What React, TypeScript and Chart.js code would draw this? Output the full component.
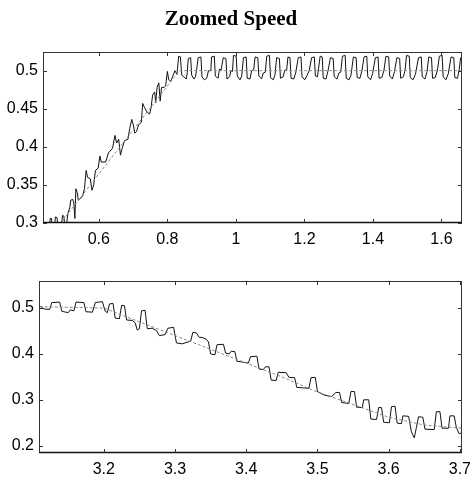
import React, { useEffect, useRef } from "react";
import { Chart, registerables } from "chart.js";

Chart.register(...registerables);

const TITLE = "Zoomed Speed";

// ---------- Top plot data ----------
const topSpeedX = [
  0.440, 0.455, 0.458, 0.462, 0.465, 0.470, 0.473, 0.478, 0.481, 0.490,
  0.494, 0.498, 0.501, 0.505, 0.510, 0.515, 0.518, 0.524, 0.527, 0.530,
  0.533, 0.537, 0.540, 0.548, 0.553, 0.558, 0.563, 0.567, 0.575, 0.580,
  0.585, 0.590, 0.598, 0.603, 0.607, 0.620, 0.628, 0.640, 0.647, 0.652,
  0.658, 0.663, 0.668, 0.675, 0.685, 0.690, 0.696, 0.700, 0.705, 0.710,
  0.716, 0.724, 0.728, 0.733, 0.740, 0.748, 0.752, 0.757, 0.763, 0.766,
  0.770, 0.775, 0.779, 0.783, 0.790, 0.795, 0.800, 0.804, 0.810, 0.815,
  0.822, 0.828, 0.833, 0.838, 0.842, 0.848,
  0.855, 0.858, 0.861, 0.868, 0.871, 0.878, 0.882, 0.885, 0.890, 0.898,
  0.901, 0.908, 0.915, 0.920, 0.927, 0.929, 0.937, 0.940, 0.948, 0.952,
  0.957, 0.963, 0.971, 0.974, 0.982, 0.985, 0.990, 0.993, 1.001, 1.004,
  1.012, 1.017, 1.022, 1.030, 1.033, 1.041, 1.046, 1.052, 1.056, 1.064,
  1.067, 1.075, 1.080, 1.086, 1.090, 1.098, 1.101, 1.109, 1.114, 1.119,
  1.127, 1.130, 1.138, 1.143, 1.148, 1.152, 1.158, 1.161, 1.169, 1.175,
  1.182, 1.190, 1.193, 1.201, 1.208, 1.214, 1.221, 1.229, 1.232, 1.238,
  1.246, 1.252, 1.255, 1.263, 1.269, 1.276, 1.284, 1.287, 1.295, 1.301,
  1.306, 1.311, 1.319, 1.322, 1.330, 1.336, 1.343, 1.351, 1.354, 1.362,
  1.368, 1.374, 1.382, 1.385, 1.393, 1.399, 1.407, 1.415, 1.418, 1.426,
  1.432, 1.438, 1.446, 1.449, 1.457, 1.463, 1.470, 1.478, 1.481, 1.489,
  1.494, 1.498, 1.506, 1.509, 1.517, 1.524, 1.533, 1.541, 1.544, 1.552,
  1.558, 1.563, 1.571, 1.574, 1.582, 1.588, 1.594, 1.602, 1.605, 1.613,
  1.620, 1.628, 1.636, 1.639, 1.647, 1.652, 1.656, 1.660,
];
const topSpeedY = [
  0.285, 0.285, 0.306, 0.306, 0.288, 0.288, 0.308, 0.307, 0.290, 0.292,
  0.310, 0.309, 0.292, 0.296, 0.313, 0.320, 0.330, 0.331, 0.326, 0.306,
  0.345, 0.340, 0.330, 0.333, 0.336, 0.345, 0.369, 0.360, 0.358, 0.343,
  0.350, 0.369, 0.372, 0.388, 0.380, 0.380, 0.392, 0.398, 0.415, 0.405,
  0.410, 0.389, 0.398, 0.408, 0.410, 0.424, 0.436, 0.430, 0.418, 0.420,
  0.429, 0.432, 0.457, 0.452, 0.446, 0.443, 0.450, 0.468, 0.472, 0.458,
  0.478, 0.484, 0.460, 0.478, 0.478, 0.480, 0.499, 0.488, 0.486, 0.492,
  0.500, 0.495, 0.519, 0.518, 0.494, 0.492,
  0.489, 0.497, 0.516, 0.517, 0.494, 0.489, 0.492, 0.500, 0.517, 0.518,
  0.492, 0.488, 0.490, 0.500, 0.500, 0.518, 0.519, 0.493, 0.490, 0.502,
  0.501, 0.517, 0.516, 0.489, 0.492, 0.500, 0.499, 0.520, 0.519, 0.493,
  0.488, 0.493, 0.517, 0.518, 0.490, 0.489, 0.500, 0.501, 0.518, 0.517,
  0.493, 0.489, 0.497, 0.498, 0.519, 0.520, 0.491, 0.488, 0.494, 0.517,
  0.516, 0.490, 0.492, 0.501, 0.500, 0.518, 0.517, 0.490, 0.489, 0.498,
  0.517, 0.518, 0.492, 0.488, 0.494, 0.500, 0.517, 0.518, 0.493, 0.492,
  0.519, 0.518, 0.490, 0.489, 0.500, 0.517, 0.516, 0.492, 0.489, 0.497,
  0.498, 0.519, 0.520, 0.490, 0.488, 0.494, 0.518, 0.517, 0.491, 0.490,
  0.500, 0.518, 0.519, 0.492, 0.488, 0.496, 0.517, 0.518, 0.490, 0.491,
  0.500, 0.519, 0.518, 0.493, 0.489, 0.499, 0.517, 0.516, 0.490, 0.492,
  0.501, 0.520, 0.519, 0.491, 0.488, 0.495, 0.517, 0.518, 0.492, 0.489,
  0.499, 0.518, 0.517, 0.490, 0.491, 0.500, 0.519, 0.520, 0.492, 0.488,
  0.496, 0.518, 0.517, 0.491, 0.490, 0.502, 0.517, 0.518,
];
const topRefX = [0.44, 0.835, 1.66];
const topRefY = [0.272, 0.5, 0.5];
const topXTicks = [0.6, 0.8, 1, 1.2, 1.4, 1.6];
const topYTicks = [0.3, 0.35, 0.4, 0.45, 0.5];

// ---------- Bottom plot data ----------
const botSpeedX = [
  3.110, 3.116, 3.124, 3.127, 3.138, 3.141, 3.150, 3.153, 3.158, 3.161,
  3.172, 3.175, 3.184, 3.188, 3.198, 3.202, 3.205, 3.208, 3.213, 3.216,
  3.222, 3.225, 3.229, 3.232, 3.240, 3.244, 3.247, 3.250, 3.253, 3.258,
  3.261, 3.268, 3.274, 3.278, 3.286, 3.290, 3.298, 3.302, 3.310, 3.318,
  3.322, 3.325, 3.330, 3.334, 3.338, 3.344, 3.347, 3.350, 3.356, 3.359,
  3.368, 3.371, 3.376, 3.379, 3.384, 3.387, 3.396, 3.403, 3.406, 3.415,
  3.418, 3.424, 3.427, 3.432, 3.435, 3.442, 3.445, 3.456, 3.460, 3.468,
  3.471, 3.480, 3.488, 3.491, 3.497, 3.500, 3.510, 3.520, 3.526, 3.531,
  3.534, 3.544, 3.547, 3.552, 3.555, 3.563, 3.565, 3.572, 3.575, 3.583,
  3.586, 3.590, 3.593, 3.601, 3.604, 3.609, 3.612, 3.618, 3.620, 3.628,
  3.632, 3.636, 3.639, 3.642, 3.648, 3.651, 3.664, 3.667, 3.672, 3.675,
  3.684, 3.686, 3.692, 3.695, 3.699, 3.703,
];
const botSpeedY = [
  0.505, 0.498, 0.497, 0.512, 0.513, 0.493, 0.490, 0.496, 0.494, 0.513,
  0.512, 0.492, 0.491, 0.512, 0.514, 0.493, 0.490, 0.509, 0.510, 0.478,
  0.477, 0.506, 0.505, 0.474, 0.473, 0.468, 0.452, 0.455, 0.494, 0.495,
  0.455, 0.456, 0.451, 0.440, 0.442, 0.456, 0.458, 0.424, 0.422, 0.426,
  0.428, 0.447, 0.446, 0.436, 0.436, 0.432, 0.426, 0.400, 0.398, 0.420,
  0.421, 0.402, 0.400, 0.406, 0.405, 0.384, 0.382, 0.380, 0.394, 0.395,
  0.367, 0.366, 0.372, 0.372, 0.343, 0.342, 0.360, 0.359, 0.349, 0.348,
  0.327, 0.326, 0.325, 0.348, 0.349, 0.318, 0.310, 0.307, 0.316, 0.316,
  0.294, 0.292, 0.318, 0.318, 0.284, 0.283, 0.300, 0.300, 0.258, 0.257,
  0.283, 0.283, 0.251, 0.250, 0.285, 0.286, 0.249, 0.248, 0.265, 0.264,
  0.230, 0.217, 0.240, 0.263, 0.262, 0.236, 0.235, 0.274, 0.274, 0.238,
  0.238, 0.265, 0.265, 0.240, 0.226, 0.228,
];
const botRefX = [3.11, 3.2, 3.25, 3.3, 3.35, 3.4, 3.45, 3.5, 3.55, 3.6, 3.65, 3.703];
const botRefY = [0.503, 0.5, 0.47, 0.44, 0.41, 0.38, 0.35, 0.317, 0.29, 0.262, 0.245, 0.238];
const botXTicks = [3.2, 3.3, 3.4, 3.5, 3.6, 3.7];
const botYTicks = [0.2, 0.3, 0.4, 0.5];

const TICK_FONT = { family: '"Liberation Sans", Arial, sans-serif', size: 16 };

const framePlugin = {
  id: "frame",
  afterDatasetsDraw(chart: any) {
    const { ctx, chartArea: a, scales } = chart;
    ctx.save();
    ctx.strokeStyle = "#333";
    ctx.lineWidth = 1;
    ctx.strokeRect(a.left + 0.5, a.top + 0.5, a.right - a.left - 1, a.bottom - a.top - 1);
    ctx.beginPath();
    ctx.lineWidth = 1.5;
    ctx.strokeStyle = "#111";
    ctx.moveTo(a.left, a.bottom - 0.5);
    ctx.lineTo(a.right, a.bottom - 0.5);
    ctx.stroke();
    ctx.lineWidth = 1;
    ctx.strokeStyle = "#333";
    ctx.beginPath();
    const L = 4;
    for (const t of scales.x.ticks) {
      const px = Math.round(scales.x.getPixelForValue(t.value)) + 0.5;
      ctx.moveTo(px, a.bottom);
      ctx.lineTo(px, a.bottom - L);
      ctx.moveTo(px, a.top);
      ctx.lineTo(px, a.top + L);
    }
    for (const t of scales.y.ticks) {
      const py = Math.round(scales.y.getPixelForValue(t.value)) + 0.5;
      ctx.moveTo(a.left, py);
      ctx.lineTo(a.left + L, py);
      ctx.moveTo(a.right, py);
      ctx.lineTo(a.right - L, py);
    }
    ctx.stroke();
    ctx.restore();
  },
};

function pts(xs: number[], ys: number[]) {
  return xs.map((x, i) => ({ x, y: ys[i] }));
}

function makeConfig(p: any): any {
  return {
    type: "line",
    data: {
      datasets: [
        {
          data: pts(p.refX, p.refY),
          borderColor: "#8a8a8a",
          borderWidth: 1,
          borderDash: [3, 2],
          pointRadius: 0,
          tension: 0,
          fill: false,
        },
        {
          data: pts(p.sx, p.sy),
          borderColor: "#111",
          borderWidth: 1,
          pointRadius: 0,
          tension: 0,
          fill: false,
        },
      ],
    },
    options: {
      animation: false,
      responsive: false,
      events: [],
      layout: { padding: { top: p.padTop, right: 8, left: 0, bottom: 0 } },
      plugins: {
        legend: { display: false },
        tooltip: { enabled: false },
        title: p.title
          ? {
              display: true,
              text: p.title,
              color: "#000",
              font: { family: '"Liberation Serif", "Times New Roman", serif', size: 21, weight: "bold" },
              padding: { top: 7, bottom: 19.8 },
            }
          : { display: false },
      },
      scales: {
        x: {
          type: "linear",
          min: p.xmin,
          max: p.xmax,
          grid: { display: false, drawTicks: false },
          border: { display: false },
          ticks: {
            font: TICK_FONT,
            color: "#000",
            padding: 7,
            maxRotation: 0,
            autoSkip: false,
            callback: (v: any) => String(v),
          },
          afterBuildTicks: (s: any) => {
            s.ticks = p.xTicks.map((v: number) => ({ value: v }));
          },
          afterFit: (s: any) => {
            s.height = p.xh;
            s.paddingLeft = 0;
            s.paddingRight = 0;
          },
        },
        y: {
          type: "linear",
          min: p.ymin,
          max: p.ymax,
          grid: { display: false, drawTicks: false },
          border: { display: false },
          ticks: {
            font: TICK_FONT,
            color: "#000",
            padding: 5,
            autoSkip: false,
            callback: (v: any) => String(v),
          },
          afterBuildTicks: (s: any) => {
            s.ticks = p.yTicks.map((v: number) => ({ value: v }));
          },
          afterFit: (s: any) => {
            s.width = p.yw;
            s.paddingTop = 0;
            s.paddingBottom = 0;
          },
        },
      },
    },
    plugins: [framePlugin],
  };
}

export default function App() {
  const topRef = useRef<HTMLCanvasElement>(null);
  const botRef = useRef<HTMLCanvasElement>(null);

  useEffect(() => {
    const c1 = new Chart(
      topRef.current as HTMLCanvasElement,
      makeConfig({
        title: TITLE,
        sx: topSpeedX,
        sy: topSpeedY,
        refX: topRefX,
        refY: topRefY,
        xTicks: topXTicks,
        yTicks: topYTicks,
        xmin: 0.437,
        xmax: 1.66,
        ymin: 0.3,
        ymax: 0.5245,
        padTop: 0,
        xh: 27,
        yw: 43,
      })
    );
    const c2 = new Chart(
      botRef.current as HTMLCanvasElement,
      makeConfig({
        title: null,
        sx: botSpeedX,
        sy: botSpeedY,
        refX: botRefX,
        refY: botRefY,
        xTicks: botXTicks,
        yTicks: botYTicks,
        xmin: 3.109,
        xmax: 3.703,
        ymin: 0.184,
        ymax: 0.559,
        padTop: 31,
        xh: 26,
        yw: 39,
      })
    );
    return () => {
      c1.destroy();
      c2.destroy();
    };
  }, []);

  return (
    <div style={{ position: "absolute", left: 0, top: 0, width: 470, height: 479, background: "#fff", overflow: "hidden" }}>
      <canvas ref={topRef} width={470} height={250} style={{ position: "absolute", left: 0, top: 0 }} />
      <canvas ref={botRef} width={470} height={229} style={{ position: "absolute", left: 0, top: 250 }} />
    </div>
  );
}
